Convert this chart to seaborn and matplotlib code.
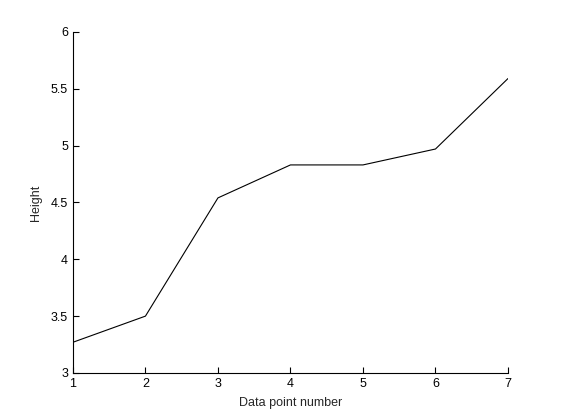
import matplotlib
matplotlib.use('Agg')
import matplotlib.pyplot as plt
import seaborn as sns
import pandas as pd

# Data
point_number = [1, 2, 3, 4, 5, 6, 7]
height = [3.27, 3.50, 4.54, 4.83, 4.83, 4.97, 5.59]

df = pd.DataFrame({'point': point_number, 'height': height})

sns.set_style('ticks')
plt.rcParams['font.family'] = ['Liberation Sans', 'DejaVu Sans']

fig = plt.figure(figsize=(5.61, 4.2), dpi=100)
ax = fig.add_axes([0.130, 0.112, 0.7755, 0.812])

sns.lineplot(data=df, x='point', y='height', color='black', linewidth=0.8, ax=ax)

ax.set_xlim(1, 7)
ax.set_ylim(3, 6)
ax.set_xticks(point_number)
ax.set_yticks([3, 3.5, 4, 4.5, 5, 5.5, 6])
ax.set_yticklabels(['3', '3.5', '4', '4.5', '5', '5.5', '6'])
ax.tick_params(direction='in', length=4, width=0.8, labelsize=9, colors='black')
ax.spines['top'].set_visible(False)
ax.spines['right'].set_visible(False)
for s in ['left', 'bottom']:
    ax.spines[s].set_linewidth(0.8)
    ax.spines[s].set_color('black')

ax.set_xlabel('Data point number', fontsize=9, labelpad=5)
ax.set_ylabel('Height', fontsize=9, labelpad=6)

fig.savefig('out.png', dpi=100, facecolor='white')
